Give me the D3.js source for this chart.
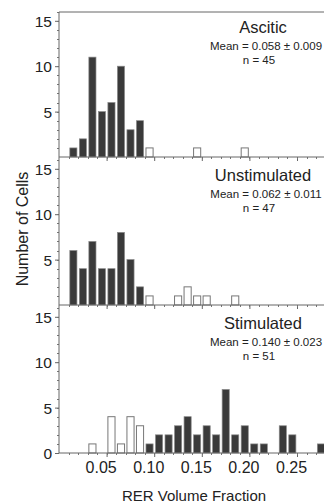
<!DOCTYPE html>
<html>
<head>
<meta charset="utf-8">
<script src="https://cdn.jsdelivr.net/npm/d3@7"></script>
<style>
body { margin: 0; background: #fff; }
text { font-family: Arial, "Liberation Sans", sans-serif; fill: #222; }
.frame { stroke: #666; stroke-width: 1; fill: none; }
.dark { fill: #3a3a3a; stroke: #8a8a8a; stroke-width: 0.7; }
.open { fill: #fff; stroke: #777; stroke-width: 1; }
</style>
</head>
<body>
<div id="main"></div>
<script>
// lower edge of each 0.01 bin
var binEdges = [0.01, 0.02, 0.03, 0.04, 0.05, 0.06, 0.07, 0.08, 0.09, 0.10,
                0.11, 0.12, 0.13, 0.14, 0.15, 0.16, 0.17, 0.18, 0.19, 0.20,
                0.21, 0.22, 0.23, 0.24, 0.25, 0.26, 0.27];

var asciticDark   = [1, 2, 11, 5, 6, 10, 3, 4, 0, 0, 0, 0, 0, 0, 0, 0, 0, 0, 0, 0, 0, 0, 0, 0, 0, 0, 0];
var asciticOpen   = [0, 0, 0, 0, 0, 0, 0, 0, 1, 0, 0, 0, 0, 1, 0, 0, 0, 0, 1, 0, 0, 0, 0, 0, 0, 0, 0];
var unstimDark    = [6, 4, 7, 4, 4, 8, 5, 2, 0, 0, 0, 0, 0, 0, 0, 0, 0, 0, 0, 0, 0, 0, 0, 0, 0, 0, 0];
var unstimOpen    = [0, 0, 0, 0, 0, 0, 0, 0, 1, 0, 0, 1, 2, 1, 1, 0, 0, 1, 0, 0, 0, 0, 0, 0, 0, 0, 0];
var stimDark      = [0, 0, 0, 0, 0, 0, 0, 0, 1, 2, 2, 3, 4, 2, 3, 2, 7, 2, 3, 1, 1, 0, 3, 2, 0, 0, 1];
var stimOpen      = [0, 0, 1, 0, 4, 1, 4, 3, 0, 0, 0, 0, 0, 0, 0, 0, 0, 0, 0, 0, 0, 0, 0, 0, 0, 0, 0];

var panelNames = ["Ascitic", "Unstimulated", "Stimulated"];
var panelMeans = ["Mean = 0.058 \u00b1 0.009", "Mean = 0.062 \u00b1 0.011", "Mean = 0.140 \u00b1 0.023"];
var panelN     = ["n = 45", "n = 47", "n = 51"];
var yTicks = [5, 10, 15];
var xTicks = [0.05, 0.10, 0.15, 0.20, 0.25];

var panels = [
	{ dark: asciticDark, open: asciticOpen, top: 12, bottom: 157 },
	{ dark: unstimDark, open: unstimOpen, top: 157, bottom: 305 },
	{ dark: stimDark, open: stimOpen, top: 305, bottom: 453 }
];

var width = 324, height = 504;
var svg = d3.select('#main').append('svg')
			.attr('width', width)
			.attr('height', height);

var x = d3.scaleLinear()
		  .domain([0, 0.28])
		  .range([59, 59 + 0.28 * 952]);

var binW = 0.01;

// top border of the frame
svg.append('line')
   .attr('class', 'frame')
   .attr('x1', x(0)).attr('x2', width)
   .attr('y1', 12).attr('y2', 12);

panels.forEach(function(p, i){
	var y = d3.scaleLinear()
			  .domain([0, 16.3])
			  .range([p.bottom, p.bottom - 148]);

	var g = svg.append('g');

	// y axis with minor ticks every cell
	var yAxis = d3.axisLeft(y)
				  .tickValues(i == 2 ? [0].concat(yTicks) : yTicks)
				  .tickSize(4)
				  .tickPadding(3)
				  .tickFormat(d3.format('d'));
	var ya = g.append('g')
			  .attr('transform', 'translate(' + x(0) + ',0)')
			  .call(yAxis);
	ya.select('.domain').remove();
	ya.selectAll('line').attr('stroke', '#666');
	ya.selectAll('text')
	  .attr('font-size', 15.5)
	  .attr('dy', '0.36em')
	  .attr('fill', '#222');

	g.append('g')
	 .attr('transform', 'translate(' + x(0) + ',0)')
	 .selectAll('line')
	 .data(d3.range(1, 17))
	 .enter().append('line')
	 .attr('x1', -2).attr('x2', 0)
	 .attr('y1', function(d){ return Math.round(y(d)) + 0.5; })
	 .attr('y2', function(d){ return Math.round(y(d)) + 0.5; })
	 .attr('stroke', '#777');

	g.append('line')
	 .attr('class', 'frame')
	 .attr('x1', x(0)).attr('x2', x(0))
	 .attr('y1', p.top).attr('y2', p.bottom);

	// bars
	g.selectAll('rect.dark')
	 .data(binEdges.map(function(e, k){ return { e: e, v: p.dark[k] }; }).filter(function(d){ return d.v > 0; }))
	 .enter().append('rect')
	 .attr('class', 'dark')
	 .attr('x', function(d){ return x(d.e) + 1.3; })
	 .attr('width', function(d){ return x(d.e + binW) - x(d.e) - 2.4; })
	 .attr('y', function(d){ return y(d.v); })
	 .attr('height', function(d){ return y(0) - y(d.v); });

	g.selectAll('rect.open')
	 .data(binEdges.map(function(e, k){ return { e: e, v: p.open[k] }; }).filter(function(d){ return d.v > 0; }))
	 .enter().append('rect')
	 .attr('class', 'open')
	 .attr('x', function(d){ return x(d.e) + 1.3; })
	 .attr('width', function(d){ return x(d.e + binW) - x(d.e) - 2.4; })
	 .attr('y', function(d){ return y(d.v); })
	 .attr('height', function(d){ return y(0) - y(d.v); });

	// baseline with ticks
	var xAxis = d3.axisBottom(x)
				  .tickValues(xTicks)
				  .tickSize(4)
				  .tickPadding(5)
				  .tickFormat(d3.format('.2f'));
	var xa = g.append('g')
			  .attr('transform', 'translate(0,' + p.bottom + ')')
			  .call(xAxis);
	xa.select('.domain').remove();
	xa.selectAll('line').attr('stroke', '#666');
	if (i == 2){
		xa.selectAll('text')
		  .attr('font-size', 16)
		  .attr('dx', -6)
		  .attr('fill', '#222');
	} else {
		xa.selectAll('text').remove();
	}

	g.append('g')
	 .selectAll('line')
	 .data(d3.range(0.01, 0.28, 0.01))
	 .enter().append('line')
	 .attr('x1', function(d){ return Math.round(x(d)) + 0.5; })
	 .attr('x2', function(d){ return Math.round(x(d)) + 0.5; })
	 .attr('y1', p.bottom).attr('y2', p.bottom + 2)
	 .attr('stroke', '#777');

	g.append('line')
	 .attr('class', 'frame')
	 .attr('x1', x(0)).attr('x2', width)
	 .attr('y1', p.bottom).attr('y2', p.bottom);

	// labels
	g.append('text')
	 .attr('x', 263)
	 .attr('y', p.bottom - 124)
	 .attr('text-anchor', 'middle')
	 .attr('font-size', 16.5)
	 .text(panelNames[i]);
	g.append('text')
	 .attr('x', 266)
	 .attr('y', p.bottom - 107.5)
	 .attr('text-anchor', 'middle')
	 .attr('font-size', 11.5)
	 .attr('fill', '#333')
	 .text(panelMeans[i]);
	g.append('text')
	 .attr('x', 259)
	 .attr('y', p.bottom - 93)
	 .attr('text-anchor', 'middle')
	 .attr('font-size', 11.5)
	 .attr('fill', '#333')
	 .text(panelN[i]);
});

svg.append('text')
   .attr('transform', 'translate(28,229) rotate(-90)')
   .attr('text-anchor', 'middle')
   .attr('font-size', 16)
   .text("Number of Cells");

svg.append('text')
   .attr('x', 194)
   .attr('y', 501)
   .attr('text-anchor', 'middle')
   .attr('font-size', 15)
   .text("RER Volume Fraction");
</script>
</body>
</html>
